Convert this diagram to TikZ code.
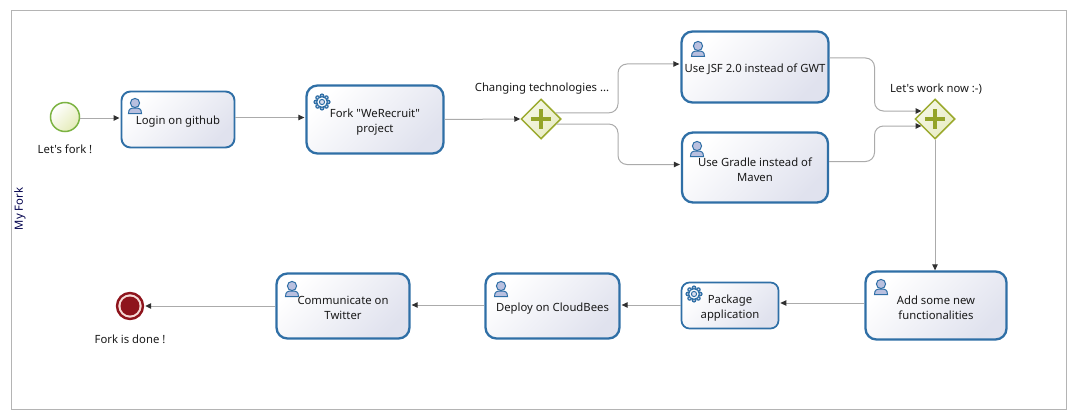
\documentclass[tikz,border=0pt]{standalone}
\usepackage{fontspec}
\setmainfont{Noto Sans}[Ligatures=TeXOff]
\usetikzlibrary{arrows.meta,shapes.geometric,calc}
\definecolor{boxblue}{HTML}{2F6FA6}
\definecolor{flowgray}{HTML}{ABABAB}
\definecolor{framegray}{HTML}{B4B4B4}
\definecolor{headfill}{HTML}{B9C0DF}
\definecolor{gwline}{HTML}{9BAA2E}
\definecolor{gwplus}{HTML}{94A428}
\definecolor{gwfill}{HTML}{E8ECC2}
\definecolor{startline}{HTML}{7CB342}
\definecolor{startfill}{HTML}{E4EBB8}
\definecolor{endred}{HTML}{8E141C}
\definecolor{endring}{HTML}{F6DAD6}
\definecolor{boxfill}{HTML}{E0E2EE}
\definecolor{tipdark}{HTML}{303030}
\tikzset{
  txt/.style={font=\fontsize{11.3}{15}\selectfont,text=black!90},
  tasklab/.style={txt,align=center,inner sep=0pt,yshift=-2.5pt},
  taskbox/.style={draw=boxblue,rounded corners=#1,inner sep=0pt,
    top color=white,bottom color=boxfill,shading angle=45},
  bigtask/.style={taskbox=11pt,line width=2.3pt},
  smalltask/.style={taskbox=8pt,line width=1.7pt},
  flowline/.style={draw=flowgray,line width=1pt,rounded corners=9pt},
  flow/.style={flowline,-{Triangle[length=6pt,width=5.5pt,tipdark]}},
  gateway/.style={diamond,draw=gwline,line width=1.5pt,minimum width=40pt,minimum height=40pt,inner sep=0pt,
    top color=white!60!gwfill,bottom color=gwfill,shading angle=45},
  plusbar/.style={gwplus,line width=3.6pt},
  lab/.style={txt,inner sep=0pt},
  person/.pic={
    \draw[boxblue,fill=headfill,line width=1pt] (-6.5,5.5) .. controls (-6.5,0.5) and (-4,0) .. (0,0) .. controls (4,0) and (6.5,0.5) .. (6.5,5.5) -- cycle;
    \draw[boxblue,fill=headfill,line width=1pt] (0,-5) circle (4.6);
  },
  gearicon/.pic={
    \foreach \a in {0,45,...,315}
      \fill[boxblue] (\a:6.2) circle (2.4);
    \draw[boxblue,fill=white,line width=1.3pt] (0,0) circle (5.4);
    \draw[boxblue,fill=headfill!50,line width=1pt] (0,0) circle (2.6);
    \foreach \a in {0,45,...,315}
      \fill[headfill!60] (\a:6.4) circle (.8);
  }
}
\begin{document}
\begin{tikzpicture}[x=1pt,y=-1pt]
\useasboundingbox (0,0) rectangle (1076,420);
\draw[framegray,line width=1pt] (11,11) rectangle (1066,409);
\node[lab,rotate=90,text=blue!30!black] (pool) at (20,209) {My Fork};

\node[circle,draw=startline,line width=1.5pt,minimum size=29pt,inner sep=0pt,top color=white,bottom color=startfill,shading angle=45] (start) at (65,117) {};
\node[lab] (startlab) at (65,149.5) {Let's fork !};

\node[bigtask,line width=1.9pt,rounded corners=9pt,minimum width=113pt,minimum height=56pt,label={[tasklab]center:{Login on github}}] (login) at (178,119.5) {};
\node[bigtask,minimum width=137pt,minimum height=68pt,label={[tasklab]center:{Fork "WeRecruit"\\project}}] (fork) at (375,119.5) {};
\node[gateway] (gwa) at (541,119) {};
\draw[plusbar] ($(gwa.center)+(-10,0)$) -- ($(gwa.center)+(10,0)$) ($(gwa.center)+(0,-10)$) -- ($(gwa.center)+(0,10)$);
\node[lab] (gwalab) at (542,89) {Changing technologies ...};
\node[bigtask,minimum width=147pt,minimum height=71pt,label={[tasklab]center:{Use JSF 2.0 instead of GWT}}] (jsf) at (755,67) {};
\node[bigtask,minimum width=146pt,minimum height=70pt,label={[tasklab]center:{Use Gradle instead of\\Maven}}] (gradle) at (755,167.5) {};
\node[gateway] (gwb) at (935,119) {};
\draw[plusbar] ($(gwb.center)+(-10,0)$) -- ($(gwb.center)+(10,0)$) ($(gwb.center)+(0,-10)$) -- ($(gwb.center)+(0,10)$);
\node[lab] (gwblab) at (936,89) {Let's work now :-)};
\node[bigtask,minimum width=141pt,minimum height=68pt,label={[tasklab]center:{Add some new\\functionalities}}] (add) at (936,305.5) {};
\node[smalltask,minimum width=97pt,minimum height=46pt,label={[tasklab]center:{Package\\application}}] (pack) at (730,305.5) {};
\node[bigtask,minimum width=134pt,minimum height=65pt,label={[tasklab]center:{Deploy on CloudBees}}] (deploy) at (552.5,306) {};
\node[bigtask,minimum width=133pt,minimum height=65pt,label={[tasklab,yshift=1pt]center:{Communicate on\\Twitter}}] (comm) at (343,306) {};
\node[circle,draw=endred,line width=2.4pt,minimum size=26pt,inner sep=0pt,fill=endring] (endev) at (130,306) {};
\fill[endred] (endev.center) circle (9.5);
\node[lab] (endlab) at (130,339) {Fork is done !};

\pic at (135,108) {person};
\pic at (698,51) {person};
\pic at (697,151) {person};
\pic at (881,289) {person};
\pic at (501,291) {person};
\pic at (292,291) {person};
\pic at (322,102) {gearicon};
\pic at (694,294) {gearicon};

\coordinate (ya) at (0,118);
\coordinate (yb) at (0,117.5);
\coordinate (yc) at (0,303);
\coordinate (yd) at (0,305);
\draw[flow] (start.east |- ya) -- ([xshift=-1pt]login.west |- ya);
\draw[flow] (login.east |- yb) -- ([xshift=-1pt]fork.west |- yb);
\draw[flow] (fork.east) -- (gwa.west);

\coordinate (ma) at (618,119);
\coordinate (ja) at ([xshift=-1pt,yshift=3pt]jsf.west);
\coordinate (ga) at ([xshift=-1pt,yshift=3pt]gradle.west);
\draw[flow] (gwa.23) -- (gwa.23 -| ma) -- (ma |- ja) -- (ja);
\draw[flow] (gwa.-18) -- (gwa.-18 -| ma) -- (ma |- ga) -- (ga);

\coordinate (mb) at (874.5,119);
\coordinate (jb) at ([yshift=9pt]jsf.east);
\coordinate (gb) at ([yshift=6pt]gradle.east);
\coordinate (jc) at ([yshift=8pt,xshift=-1pt]gwb.west);
\coordinate (gc) at ([yshift=-7pt,xshift=-1pt]gwb.west);
\coordinate (jd) at (921.5,0);
\draw[flow] (jb) -- (jb -| mb) -- (mb |- jc) -- (jc -| jd);
\draw[flow] (gb) -- (gb -| mb) -- (mb |- gc) -- (gc -| jd);

\draw[flow] (gwb.south) -- ([xshift=-1pt]add.north);
\draw[flow] (add.west |- yc) -- ([xshift=1pt]pack.east |- yc);
\draw[flow] (pack.west |- yd) -- ([xshift=1pt]deploy.east |- yd);
\draw[flow] (deploy.west |- yd) -- ([xshift=1pt]comm.east |- yd);
\draw[flow] (comm.west) -- ([xshift=1pt]endev.east);
\end{tikzpicture}
\end{document}
